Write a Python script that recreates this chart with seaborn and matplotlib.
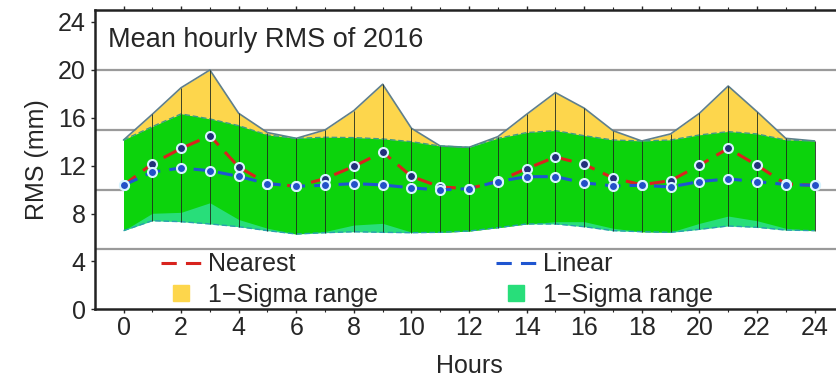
import numpy as np
import pandas as pd
import matplotlib
matplotlib.use("Agg")
import matplotlib.pyplot as plt
from matplotlib.lines import Line2D
import seaborn as sns

hours = list(range(25))
nearest = [10.36, 12.17, 13.44, 14.5, 11.89, 10.5, 10.28, 10.92, 11.94, 13.14, 11.1, 10.22, 10.08,
           10.7, 11.75, 12.72, 12.11, 10.97, 10.4, 10.75, 12.03, 13.44, 12.03, 10.47, 10.36]
linear = [10.36, 11.47, 11.8, 11.58, 11.1, 10.5, 10.28, 10.36, 10.5, 10.39, 10.14, 9.97, 10.08,
          10.67, 11.08, 11.08, 10.56, 10.31, 10.36, 10.22, 10.67, 10.89, 10.67, 10.42, 10.36]
near_upper = [14.14, 16.29, 18.51, 19.99, 16.37, 14.76, 14.28, 14.98, 16.6, 18.8, 15.12, 13.64, 13.53,
              14.42, 16.29, 18.1, 16.8, 14.92, 14.06, 14.65, 16.37, 18.65, 16.51, 14.28, 14.06]
near_lower = [6.57, 8.02, 8.1, 8.9, 7.5, 6.77, 6.29, 6.5, 7.04, 7.18, 6.45, 6.43, 6.54,
              6.82, 7.13, 7.32, 7.32, 6.77, 6.48, 6.45, 7.18, 7.79, 7.4, 6.77, 6.57]
lin_upper = [14.14, 15.26, 16.32, 15.9, 15.34, 14.56, 14.28, 14.37, 14.34, 14.23, 14.0, 13.64, 13.53,
             14.28, 14.76, 14.92, 14.5, 14.14, 14.06, 14.14, 14.56, 14.84, 14.65, 14.14, 14.06]
lin_lower = [6.57, 7.40, 7.32, 7.13, 6.9, 6.57, 6.29, 6.4, 6.48, 6.43, 6.4, 6.43, 6.54,
             6.82, 7.13, 7.13, 6.9, 6.57, 6.48, 6.43, 6.68, 6.96, 6.85, 6.62, 6.57]

title = "Mean hourly RMS of 2016"
labels = ["Nearest", "Linear", "1\u2212Sigma range", "1\u2212Sigma range"]
xticks = list(range(0, 25, 2))
yticks = list(range(0, 25, 4))
grid_levels = [5, 10, 15, 20]

sns.set_style("ticks")
plt.rcParams['font.family'] = ['Liberation Sans', 'DejaVu Sans']
FS = 18

YELLOW = '#fdd64c'
LGREEN = '#28de7a'
GREEN = '#0cd30c'

fig = plt.figure(figsize=(8.36, 3.83), dpi=100)
ax = fig.add_axes([0.1133, 0.1924, 0.8955, 0.7815])

h = np.array(hours, dtype=float)
nu, nl = np.array(near_upper), np.array(near_lower)
lu, ll = np.array(lin_upper), np.array(lin_lower)

for g in grid_levels:
    ax.axhline(g, color='#9a9a9a', lw=1.6, zorder=0)

ax.fill_between(h, nl, nu, color=YELLOW, lw=0, zorder=1)
ax.fill_between(h, ll, lu, color=LGREEN, lw=0, zorder=2)
ax.fill_between(h, np.maximum(nl, ll), np.minimum(nu, lu), color=GREEN, lw=0, zorder=3)
ax.plot(h, nu, color='#5f7f8c', lw=1.2, zorder=4)
ax.plot(h, lu, color='#3f9a86', lw=1.0, ls=(0, (4, 2)), zorder=4)
ax.plot(h, ll, color='#2a9fb0', lw=1.0, ls=(0, (4, 2)), zorder=4)
ax.vlines(h[1:], np.minimum(nl, ll)[1:], np.maximum(nu, lu)[1:], color='#1f2a1f', lw=0.6, zorder=4)

sns.lineplot(x=h, y=nearest, ax=ax, color='#d8231e', lw=2.2, linestyle=(0, (5, 3)),
             marker='o', markersize=6.5, markerfacecolor='#22307a', markeredgecolor='#d8f4ff',
             markeredgewidth=1.5, zorder=5)
sns.lineplot(x=h, y=linear, ax=ax, color='#1f55d0', lw=2.2, linestyle=(0, (5, 3)),
             marker='o', markersize=6.5, markerfacecolor='#2350c8', markeredgecolor='#d8f4ff',
             markeredgewidth=1.5, zorder=6)

ax.set_xlim(-1, 25)
ax.set_ylim(0, 25)
ax.set_xticks(xticks)
ax.set_xticks(hours, minor=True)
ax.set_yticks(yticks)
ax.tick_params(axis='both', which='major', labelsize=FS, length=3, width=1, direction='out', top=True)
ax.tick_params(axis='x', which='major', pad=2)
ax.tick_params(axis='x', which='minor', length=2, width=0.8, top=True)
ax.set_xlabel("Hours", fontsize=FS, labelpad=10)
ax.set_ylabel("RMS (mm)", fontsize=FS, labelpad=6)
for s in ['left', 'bottom', 'top', 'right']:
    ax.spines[s].set_linewidth(1.8)
    ax.spines[s].set_color('#222222')

ax.text(0.018, 0.90, title, transform=ax.transAxes, fontsize=19.5, va='center', ha='left')

handles = [
    Line2D([], [], color='#d8231e', lw=2.2, ls=(0, (5, 3))),
    Line2D([], [], color=YELLOW, marker='s', ls='None', markersize=12),
    Line2D([], [], color='#1f55d0', lw=2.2, ls=(0, (5, 3))),
    Line2D([], [], color=LGREEN, marker='s', ls='None', markersize=12),
]
leg_labels = [labels[0], labels[2], labels[1], labels[3]]
ax.legend(handles, leg_labels, loc='upper left', bbox_to_anchor=(0.088, 0.19), ncol=2,
          frameon=False, fontsize=FS, handlelength=1.6, handletextpad=0.3,
          columnspacing=4.7, labelspacing=0.25, borderpad=0, borderaxespad=0)

fig.savefig("out.png", dpi=100)
